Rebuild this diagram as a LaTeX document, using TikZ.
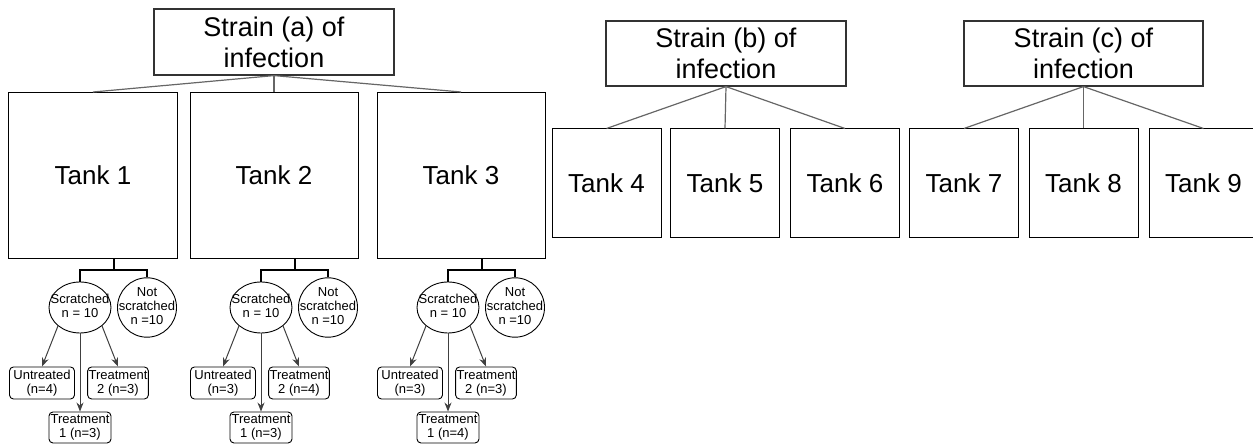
\documentclass[tikz,border=0pt]{standalone}
\usepackage{fontspec}
\setmainfont{Liberation Sans}
\usetikzlibrary{shapes.geometric,arrows.meta,calc}

\tikzset{
  strain/.style={draw=black!80, line width=1.2bp, minimum width=240bp, minimum height=65bp,
    inner sep=0pt, align=center, font=\fontsize{27bp}{31bp}\selectfont},
  tank/.style={draw, line width=1bp, minimum width=168bp, minimum height=166bp,
    inner sep=0pt, font=\fontsize{26bp}{30bp}\selectfont},
  smalltank/.style={tank, minimum width=109bp, minimum height=109bp},
  oval/.style={ellipse, draw, line width=0.9bp, inner sep=0pt, minimum width=62bp,
    minimum height=51bp, font=\fontsize{13bp}{14bp}\selectfont},
  group/.style={draw, rounded corners=4bp, line width=0.9bp, minimum height=32bp,
    inner sep=1bp, align=center, font=\fontsize{13bp}{14bp}\selectfont},
  link/.style={draw=black!60, line width=1.2bp},
  stem/.style={draw, line width=2bp},
  arr/.style={draw=black!75, line width=1bp, -{Stealth[length=9bp,width=7bp]}}
}

\begin{document}
\begin{tikzpicture}[x=1bp, y=1bp]
      \clip (0,0) rectangle (1253,444);

      % Strains of infection
      \node[strain, minimum height=66bp] (strainA) at (274,402) {Strain (a) of\\infection};
      \node[strain] (strainB) at (726,390.5) {Strain (b) of\\infection};
      \node[strain, minimum width=239bp] (strainC) at (1083.5,390.5) {Strain (c) of\\infection};

      % Tanks
      \node[tank] (tank1) at (93,268.5) {Tank 1};
      \node[tank] (tank2) at (274,268.5) {Tank 2};
      \node[tank] (tank3) at (461,268.5) {Tank 3};
      \node[smalltank] (tank4) at (606.5,260.5) {Tank 4};
      \node[smalltank] (tank5) at (725,260.5) {Tank 5};
      \node[smalltank] (tank6) at (845,260.5) {Tank 6};
      \node[smalltank] (tank7) at (964,260.5) {Tank 7};
      \node[smalltank] (tank8) at (1083.5,260.5) {Tank 8};
      \node[smalltank] (tank9) at (1203.5,260.5) {Tank 9};

      % Links from strains to tanks
      \draw[link] (strainA.south) -- (tank1.north);
      \draw[link] (strainA.south) -- (tank2.north);
      \draw[link] (strainA.south) -- (tank3.north);
      \draw[link] (strainB.south) -- (tank4.north);
      \draw[link] (strainB.south) -- (tank5.north);
      \draw[link] (strainB.south) -- (tank6.north);
      \draw[link] (strainC.south) -- (tank7.north);
      \draw[link] (strainC.south) -- (tank8.north);
      \draw[link] (strainC.south) -- (tank9.north);

      % Fish groups below tanks 1-3
      \foreach \i/\cx/\nU/\nA/\nB in {1/93/4/3/3, 2/274/3/3/4, 3/461/3/4/3} {
        \node[oval] (scr\i) at (\cx-13,136.5)
          {\makebox[0pt]{\begin{tabular}{@{}c@{}}Scratched\\n = 10\end{tabular}}};
        \node[oval, minimum width=59bp] (nsc\i) at (\cx+54,136.5)
          {\makebox[0pt]{\begin{tabular}{@{}c@{}}Not\\scratched\\n =10\end{tabular}}};
        \node[group, minimum width=65bp] (untr\i) at (\cx-51,61) {Untreated\\(n=\nU)};
        \node[group, minimum width=60bp] (treatB\i) at (\cx+25,61) {Treatment\\2 (n=\nB)};
        \node[group, minimum width=62bp, minimum height=31bp] (treatA\i) at (\cx-13,16.5) {Treatment\\1 (n=\nA)};

        % Split under the tank
        \coordinate (split\i) at ($(scr\i.north)!.5!(nsc\i.north)+(0,9)$);
        \draw[stem] (scr\i.north) |- (split\i) -| (nsc\i.north);
        \draw[stem] (split\i) -- (split\i |- tank\i.south);

        % Arrows to treatment groups
        \draw[arr] (scr\i.220) -- (untr\i.north);
        \draw[arr] (scr\i.south) -- (treatA\i.north);
        \draw[arr] (scr\i.-40) -- (treatB\i.north);
      }
    \end{tikzpicture}
\end{document}
